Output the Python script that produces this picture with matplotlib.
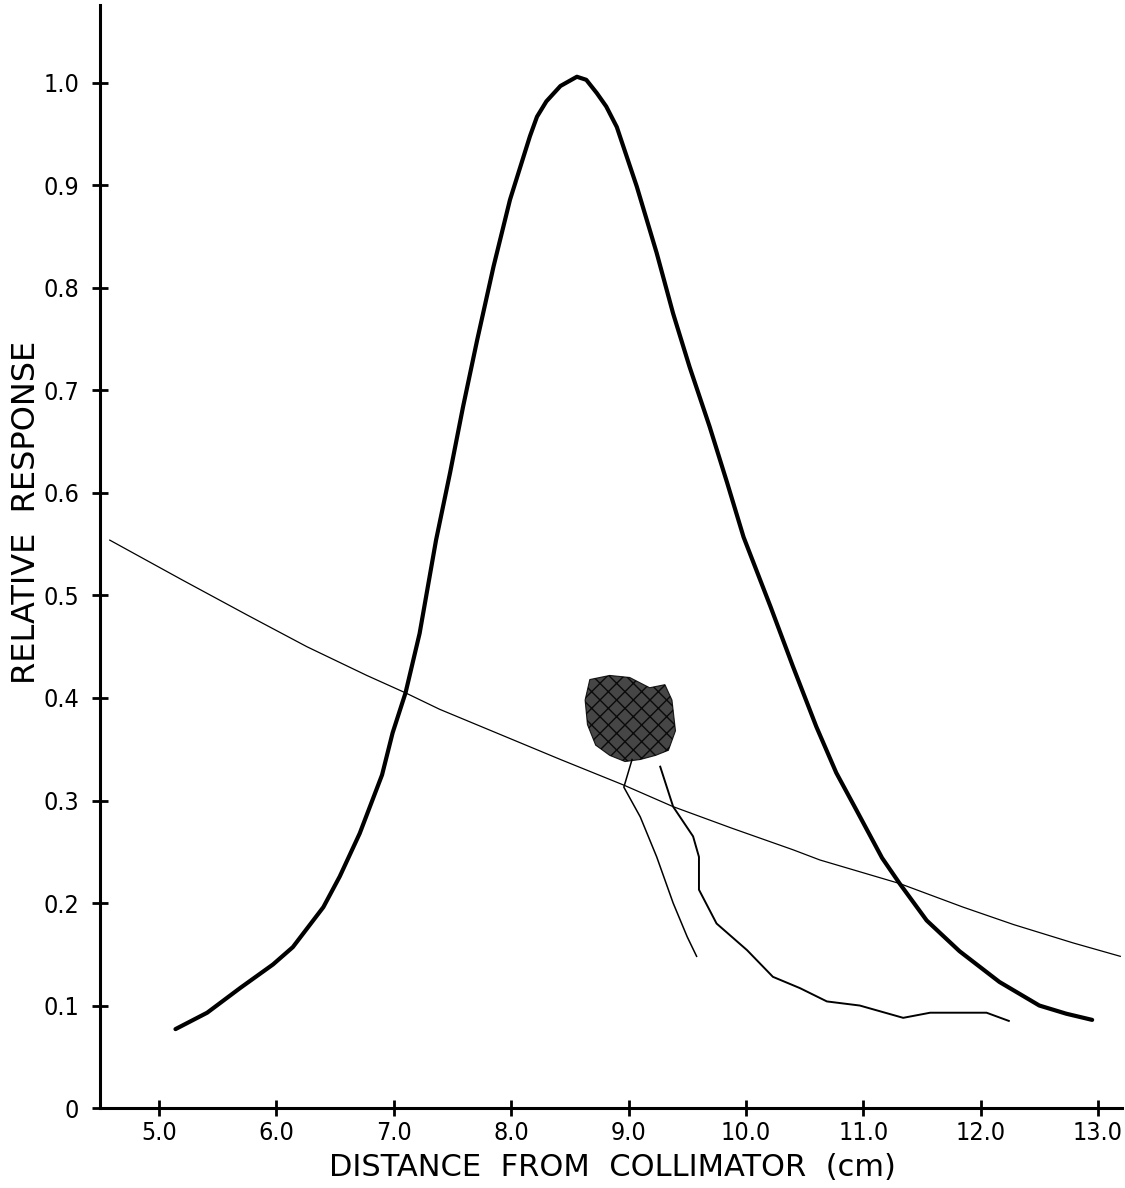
import numpy as np
import matplotlib
matplotlib.use("Agg")
import matplotlib.pyplot as plt

# thick curve: relative response vs distance
dist = [5.14, 5.41, 5.69, 5.97, 6.14, 6.40, 6.54, 6.71, 6.90, 6.99, 7.10, 7.22,
        7.36, 7.48, 7.59, 7.71, 7.85, 7.99, 8.16, 8.22, 8.30, 8.42, 8.56, 8.64,
        8.73, 8.81, 8.90, 9.07, 9.24, 9.38, 9.52, 9.69, 9.84, 9.98, 10.21, 10.40,
        10.60, 10.77, 10.94, 11.16, 11.31, 11.54, 11.82, 12.16, 12.50, 12.73, 12.95]
response = [0.077, 0.093, 0.117, 0.140, 0.157, 0.196, 0.226, 0.268, 0.325, 0.366,
            0.405, 0.463, 0.554, 0.620, 0.684, 0.749, 0.821, 0.886, 0.948, 0.967,
            0.982, 0.997, 1.006, 1.003, 0.990, 0.977, 0.957, 0.899, 0.834, 0.775,
            0.723, 0.665, 0.610, 0.557, 0.489, 0.431, 0.372, 0.327, 0.291, 0.244,
            0.219, 0.183, 0.153, 0.123, 0.100, 0.092, 0.086]

# thin falling line
thin_x = [4.58, 5.20, 5.75, 6.26, 6.77, 7.10, 7.39, 8.42, 8.96, 9.38, 9.88,
          10.40, 10.63, 11.31, 11.85, 12.28, 12.79, 13.19]
thin_y = [0.554, 0.515, 0.481, 0.450, 0.422, 0.405, 0.389, 0.340, 0.315, 0.294,
          0.273, 0.252, 0.242, 0.219, 0.196, 0.179, 0.161, 0.148]

# two faint traces below the blot
trace_a_x = [9.03, 8.96, 9.10, 9.24, 9.38, 9.50, 9.58]
trace_a_y = [0.340, 0.313, 0.284, 0.245, 0.200, 0.167, 0.148]
trace_b_x = [9.27, 9.38, 9.55, 9.60, 9.60, 9.75, 10.01, 10.23, 10.46, 10.69,
             10.97, 11.34, 11.57, 12.05, 12.24]
trace_b_y = [0.333, 0.294, 0.265, 0.245, 0.213, 0.180, 0.154, 0.128, 0.117,
             0.104, 0.100, 0.088, 0.093, 0.093, 0.085]

# blot outline
blot_x = [8.67, 8.84, 9.01, 9.18, 9.31, 9.37, 9.40, 9.34, 9.23, 9.10, 8.97,
          8.84, 8.72, 8.65, 8.63]
blot_y = [0.418, 0.422, 0.420, 0.410, 0.413, 0.398, 0.368, 0.349, 0.344,
          0.340, 0.338, 0.344, 0.354, 0.374, 0.398]

xticks = [5, 6, 7, 8, 9, 10, 11, 12, 13]
xlabels = ["5.0", "6.0", "7.0", "8.0", "9.0", "10.0", "11.0", "12.0", "13.0"]
yticks = [0, 0.1, 0.2, 0.3, 0.4, 0.5, 0.6, 0.7, 0.8, 0.9, 1.0]
ylabels = ["0", "0.1", "0.2", "0.3", "0.4", "0.5", "0.6", "0.7", "0.8", "0.9", "1.0"]

plt.rcParams["font.family"] = ["DejaVu Sans"]
plt.rcParams["font.stretch"] = "condensed"

fig = plt.figure(figsize=(11.25, 11.88), dpi=100)
ax = fig.add_axes([0.0889, 0.0673, 0.9084, 0.9285])

ax.plot(dist, response, color="black", lw=3.0, solid_capstyle="round",
        solid_joinstyle="round")
ax.plot(thin_x, thin_y, color="black", lw=0.9)
ax.plot(trace_a_x, trace_a_y, color="black", lw=1.1)
ax.plot(trace_b_x, trace_b_y, color="black", lw=1.4)
ax.fill(blot_x, blot_y, color="0.15", alpha=0.85, hatch="xx", ec="black", lw=0.8)

ax.set_xlim(4.497, 13.204)
ax.set_ylim(0, 1.076)
ax.spines["top"].set_visible(False)
ax.spines["right"].set_visible(False)
ax.spines["left"].set_linewidth(2.2)
ax.spines["bottom"].set_linewidth(2.2)

ax.set_xticks(xticks)
ax.set_xticklabels(xlabels)
ax.set_yticks(yticks)
ax.set_yticklabels(ylabels)
ax.tick_params(direction="inout", length=12, width=2, labelsize=18)
ax.tick_params(axis="y", pad=9)
ax.tick_params(axis="x", pad=3)

ax.set_xlabel("DISTANCE  FROM  COLLIMATOR  (cm)", fontsize=22, va="top",
              fontstretch="normal")
ax.xaxis.set_label_coords(0.501, -0.041)
ax.set_ylabel("RELATIVE  RESPONSE", fontsize=23, fontstretch="normal")
ax.yaxis.set_label_coords(-0.057, 0.54)

fig.savefig("out.png", dpi=100)
